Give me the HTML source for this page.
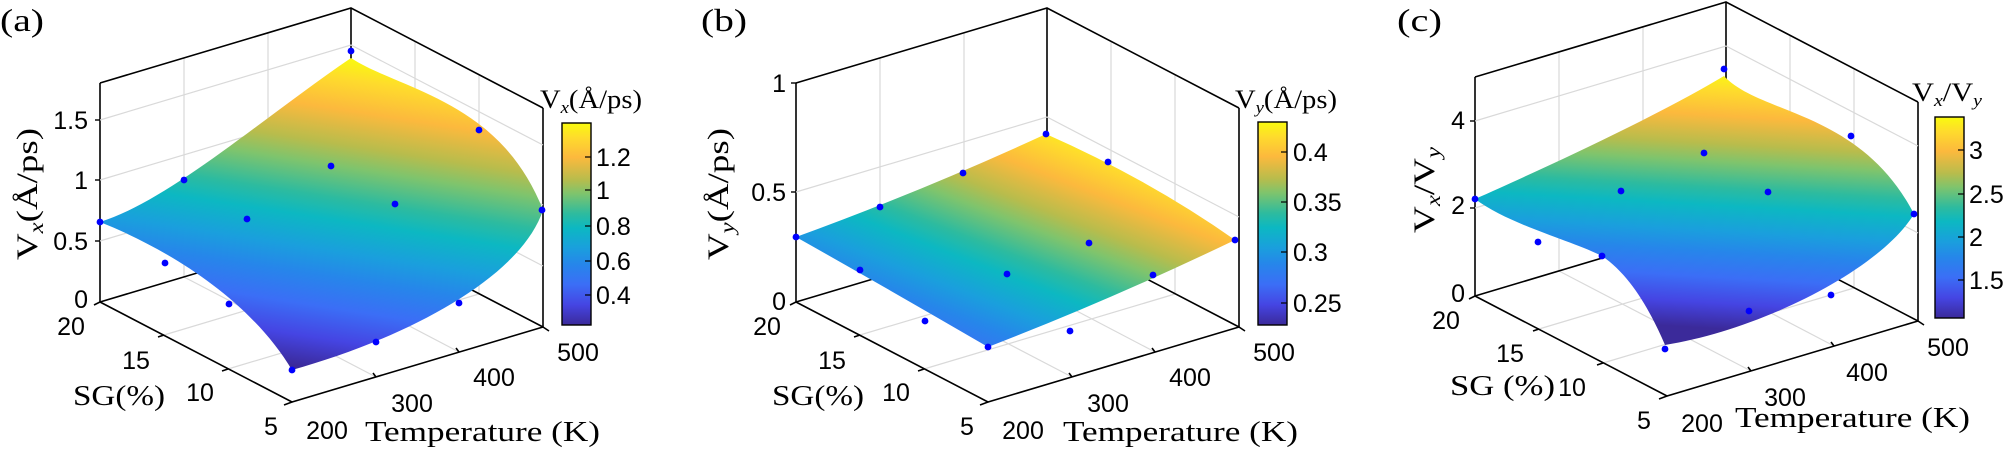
<!DOCTYPE html>
<html><head><meta charset="utf-8"><style>
html,body{margin:0;padding:0;background:#fff;}
svg{display:block;}
.tk{font-family:"Liberation Sans",sans-serif;font-size:25px;fill:#000;}
.sr{font-family:"Liberation Serif",serif;fill:#000;}
</style></head><body>
<svg width="2007" height="453" viewBox="0 0 2007 453" xmlns="http://www.w3.org/2000/svg">
<defs>
<linearGradient id="cb" x1="0" y1="0" x2="0" y2="1">
<stop offset="0" stop-color="#f9fb0e"/><stop offset="0.07" stop-color="#fedc2c"/><stop offset="0.17" stop-color="#fcb93d"/><stop offset="0.28" stop-color="#b8bc4c"/><stop offset="0.35" stop-color="#7ec46d"/><stop offset="0.45" stop-color="#2dbb9f"/><stop offset="0.52" stop-color="#0cb8c2"/><stop offset="0.62" stop-color="#1a9fdd"/><stop offset="0.70" stop-color="#2686ea"/><stop offset="0.80" stop-color="#3b6ef6"/><stop offset="0.90" stop-color="#4545e3"/><stop offset="1" stop-color="#3b2a9a"/>
</linearGradient>
<linearGradient id="ga" href="#cb" gradientUnits="userSpaceOnUse" x1="131" y1="23" x2="83" y2="333"/>
<linearGradient id="gb" href="#cb" gradientUnits="userSpaceOnUse" x1="869" y1="49" x2="757" y2="338"/>
<linearGradient id="gc" href="#cb" gradientUnits="userSpaceOnUse" x1="1483" y1="58" x2="1468" y2="314"/>
<g id="box">
<g stroke="#d9d9d9" stroke-width="1.2" fill="none">
<line x1="184" y1="277" x2="184" y2="58"/><line x1="268" y1="252" x2="268" y2="33"/>
<line x1="415" y1="260" x2="415" y2="41"/><line x1="479" y1="294" x2="479" y2="74"/>
<line x1="184" y1="277" x2="376" y2="377"/><line x1="268" y1="252" x2="459" y2="352"/>
<line x1="164" y1="335" x2="415" y2="260"/><line x1="228" y1="369" x2="479" y2="294"/>
</g>
<g stroke="#000" stroke-width="1.6" fill="none">
<polyline points="100,83 351,8 543,108"/>
<line x1="100" y1="83" x2="100" y2="302"/>
<line x1="543" y1="108" x2="543" y2="327"/>
<line x1="351" y1="8" x2="351" y2="227"/>
<polyline points="100,302 351,227 543,327"/>
</g>
</g>
<g id="front" stroke="#000" stroke-width="1.6" fill="none">
<polyline points="100,302 292,402 543,327"/>
<line x1="164" y1="335" x2="158" y2="337"/><line x1="228" y1="369" x2="222" y2="371"/><line x1="292" y1="402" x2="284" y2="405"/><line x1="100" y1="302" x2="94" y2="305"/>
<line x1="376" y1="377" x2="373" y2="373"/><line x1="459" y1="352" x2="456" y2="348"/><line x1="543" y1="327" x2="549" y2="331"/>
</g>
</defs>

<!-- Panel a -->
<use href="#box"/>
<g stroke="#d9d9d9" stroke-width="1.2" fill="none">
<polyline points="100,241 351,166 543,266"/><polyline points="100,180 351,105 543,205"/><polyline points="100,120 351,45 543,145"/>
</g>
<g stroke="#000" stroke-width="1.4"><line x1="95" y1="241" x2="100" y2="241"/><line x1="95" y1="180" x2="100" y2="180"/><line x1="95" y1="120" x2="100" y2="120"/></g>
<path d="M100,222 C170,200 260,120 351,58 C400,90 500,100 543,210 C520,280 400,340 292,370 C250,300 170,250 100,222 Z" fill="url(#ga)"/>
<use href="#front"/>
<g fill="#0000ff">
<circle cx="351" cy="51" r="3.4"/><circle cx="479" cy="130" r="3.4"/><circle cx="331" cy="166" r="3.4"/><circle cx="395" cy="204" r="3.4"/><circle cx="542" cy="210" r="3.4"/><circle cx="184" cy="180" r="3.4"/><circle cx="100" cy="222" r="3.4"/><circle cx="247" cy="219" r="3.4"/><circle cx="165" cy="263" r="3.4"/><circle cx="229" cy="304" r="3.4"/><circle cx="459" cy="303" r="3.4"/><circle cx="376" cy="342" r="3.4"/><circle cx="292" cy="370" r="3.4"/>
</g>
<g class="tk" text-anchor="end"><text x="88" y="308">0</text><text x="88" y="250">0.5</text><text x="88" y="189">1</text><text x="88" y="129">1.5</text></g>
<g class="tk" text-anchor="middle"><text x="71" y="335">20</text><text x="136" y="369">15</text><text x="200" y="401">10</text><text x="271" y="435">5</text>
<text x="327" y="439">200</text><text x="412" y="412">300</text><text x="494" y="386">400</text><text x="578" y="361">500</text></g>
<text class="sr" x="73" y="405" font-size="28" textLength="92" lengthAdjust="spacingAndGlyphs">SG(%)</text>
<text class="sr" x="365" y="441" font-size="29" textLength="235" lengthAdjust="spacingAndGlyphs">Temperature (K)</text>
<text class="sr" x="0" y="31" font-size="32" textLength="44" lengthAdjust="spacingAndGlyphs">(a)</text>
<text class="sr" transform="translate(37,260) rotate(-90)" font-size="30" textLength="132" lengthAdjust="spacingAndGlyphs">V<tspan font-style="italic" font-size="20" dy="6">x</tspan><tspan dy="-6">(Å/ps)</tspan></text>
<rect x="562" y="123" width="29" height="202" fill="url(#cb)" stroke="#000" stroke-width="1.4"/>
<g stroke="#000" stroke-width="1.2"><line x1="585" y1="157" x2="591" y2="157"/><line x1="585" y1="190" x2="591" y2="190"/><line x1="585" y1="226" x2="591" y2="226"/><line x1="585" y1="261" x2="591" y2="261"/><line x1="585" y1="295" x2="591" y2="295"/></g>
<text class="sr" x="540" y="108" font-size="26" textLength="102" lengthAdjust="spacingAndGlyphs">V<tspan font-style="italic" font-size="17" dy="5">x</tspan><tspan dy="-5">(Å/ps)</tspan></text>
<g class="tk"><text x="596" y="166">1.2</text><text x="596" y="199">1</text><text x="596" y="235">0.8</text><text x="596" y="270">0.6</text><text x="596" y="304">0.4</text></g>

<!-- Panel b -->
<g transform="translate(696,0)">
<use href="#box"/>
<g stroke="#d9d9d9" stroke-width="1.2" fill="none"><polyline points="100,192 351,117 543,217"/></g>
<g stroke="#000" stroke-width="1.4"><line x1="95" y1="192" x2="100" y2="192"/><line x1="95" y1="83" x2="100" y2="83"/></g>
</g>
<path d="M796,237 Q920,192 1046,134 Q1150,180 1235,240 Q1110,300 988,347 Q890,290 796,237 Z" fill="url(#gb)"/>
<g transform="translate(696,0)"><use href="#front"/></g>
<g fill="#0000ff">
<circle cx="1046" cy="134" r="3.4"/><circle cx="1108" cy="162" r="3.4"/><circle cx="963" cy="173" r="3.4"/><circle cx="880" cy="207" r="3.4"/><circle cx="1089" cy="243" r="3.4"/><circle cx="1007" cy="274" r="3.4"/><circle cx="1153" cy="275" r="3.4"/><circle cx="860" cy="270" r="3.4"/><circle cx="925" cy="321" r="3.4"/><circle cx="1070" cy="331" r="3.4"/><circle cx="988" cy="347" r="3.4"/><circle cx="796" cy="237" r="3.4"/><circle cx="1235" cy="240" r="3.4"/>
</g>
<g class="tk" text-anchor="end"><text x="786" y="310">0</text><text x="786" y="201">0.5</text><text x="786" y="92">1</text></g>
<g class="tk" text-anchor="middle" transform="translate(696,0)"><text x="71" y="335">20</text><text x="136" y="369">15</text><text x="200" y="401">10</text><text x="271" y="435">5</text>
<text x="327" y="439">200</text><text x="412" y="412">300</text><text x="494" y="386">400</text><text x="578" y="361">500</text></g>
<text class="sr" x="772" y="405" font-size="28" textLength="92" lengthAdjust="spacingAndGlyphs">SG(%)</text>
<text class="sr" x="1063" y="441" font-size="29" textLength="235" lengthAdjust="spacingAndGlyphs">Temperature (K)</text>
<text class="sr" x="701" y="31" font-size="32" textLength="46" lengthAdjust="spacingAndGlyphs">(b)</text>
<text class="sr" transform="translate(728,260) rotate(-90)" font-size="30" textLength="132" lengthAdjust="spacingAndGlyphs">V<tspan font-style="italic" font-size="20" dy="6">y</tspan><tspan dy="-6">(Å/ps)</tspan></text>
<rect x="1258" y="122" width="29" height="203" fill="url(#cb)" stroke="#000" stroke-width="1.4"/>
<g stroke="#000" stroke-width="1.2"><line x1="1281" y1="152" x2="1287" y2="152"/><line x1="1281" y1="202" x2="1287" y2="202"/><line x1="1281" y1="252" x2="1287" y2="252"/><line x1="1281" y1="303" x2="1287" y2="303"/></g>
<text class="sr" x="1235" y="108" font-size="26" textLength="102" lengthAdjust="spacingAndGlyphs">V<tspan font-style="italic" font-size="17" dy="5">y</tspan><tspan dy="-5">(Å/ps)</tspan></text>
<g class="tk"><text x="1293" y="161">0.4</text><text x="1293" y="211">0.35</text><text x="1293" y="261">0.3</text><text x="1293" y="312">0.25</text></g>

<!-- Panel c -->
<g transform="translate(1375,-6)">
<use href="#box"/>
<g stroke="#d9d9d9" stroke-width="1.2" fill="none"><polyline points="100,214 351,139 543,239"/><polyline points="100,127 351,52 543,152"/></g>
<g stroke="#000" stroke-width="1.4"><line x1="95" y1="214" x2="100" y2="214"/><line x1="95" y1="127" x2="100" y2="127"/></g>
</g>
<path d="M1475,199 C1540,170 1650,120 1724,76 C1760,115 1860,110 1914,214 C1880,270 1760,330 1665,345 C1650,310 1630,275 1602,256 C1570,240 1510,225 1475,199 Z" fill="url(#gc)"/>
<g transform="translate(1375,-6)"><use href="#front"/></g>
<g fill="#0000ff">
<circle cx="1724" cy="69" r="3.4"/><circle cx="1851" cy="136" r="3.4"/><circle cx="1704" cy="153" r="3.4"/><circle cx="1621" cy="191" r="3.4"/><circle cx="1768" cy="192" r="3.4"/><circle cx="1914" cy="214" r="3.4"/><circle cx="1475" cy="199" r="3.4"/><circle cx="1538" cy="242" r="3.4"/><circle cx="1602" cy="256" r="3.4"/><circle cx="1831" cy="295" r="3.4"/><circle cx="1749" cy="311" r="3.4"/><circle cx="1665" cy="349" r="3.4"/>
</g>
<g class="tk" text-anchor="end"><text x="1465" y="302">0</text><text x="1465" y="214">2</text><text x="1465" y="129">4</text></g>
<g class="tk" text-anchor="middle"><text x="1446" y="329">20</text><text x="1510" y="362">15</text><text x="1572" y="396">10</text><text x="1644" y="429">5</text>
<text x="1702" y="432">200</text><text x="1785" y="406">300</text><text x="1867" y="381">400</text><text x="1948" y="356">500</text></g>
<text class="sr" x="1450" y="395" font-size="28" textLength="105" lengthAdjust="spacingAndGlyphs">SG (%)</text>
<text class="sr" x="1735" y="427" font-size="29" textLength="235" lengthAdjust="spacingAndGlyphs">Temperature (K)</text>
<text class="sr" x="1397" y="31" font-size="32" textLength="45" lengthAdjust="spacingAndGlyphs">(c)</text>
<text class="sr" transform="translate(1434,233) rotate(-90)" font-size="30" textLength="86" lengthAdjust="spacingAndGlyphs">V<tspan font-style="italic" font-size="20" dy="6">x</tspan><tspan dy="-6">/V</tspan><tspan font-style="italic" font-size="20" dy="6">y</tspan></text>
<rect x="1935" y="117" width="29" height="201" fill="url(#cb)" stroke="#000" stroke-width="1.4"/>
<g stroke="#000" stroke-width="1.2"><line x1="1958" y1="150" x2="1964" y2="150"/><line x1="1958" y1="194" x2="1964" y2="194"/><line x1="1958" y1="237" x2="1964" y2="237"/><line x1="1958" y1="280" x2="1964" y2="280"/></g>
<text class="sr" x="1912" y="101" font-size="26" textLength="70" lengthAdjust="spacingAndGlyphs">V<tspan font-style="italic" font-size="17" dy="5">x</tspan><tspan dy="-5">/V</tspan><tspan font-style="italic" font-size="17" dy="5">y</tspan></text>
<g class="tk"><text x="1969" y="159">3</text><text x="1969" y="203">2.5</text><text x="1969" y="246">2</text><text x="1969" y="289">1.5</text></g>
</svg>
</body></html>
